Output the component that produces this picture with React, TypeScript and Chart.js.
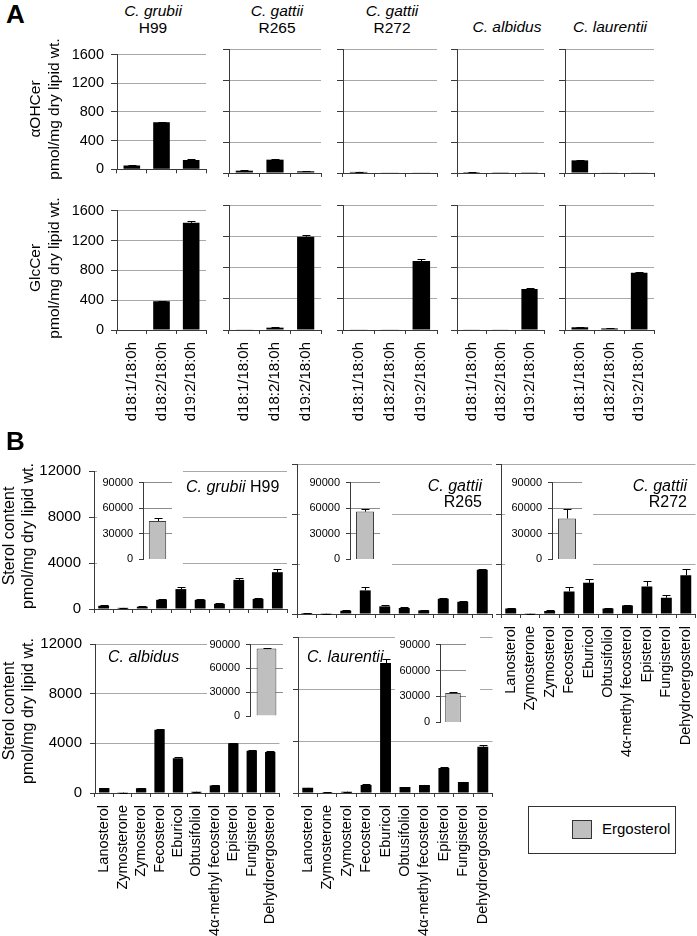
import React, { useEffect, useRef } from 'react';
import { Chart, registerables } from 'chart.js';

Chart.register(...registerables);

const FONT = '"Liberation Sans", Arial, Helvetica, sans-serif';

// ---------- Panel A data ----------
const ceramideCategories = ['d18:1/18:0h', 'd18:2/18:0h', 'd19:2/18:0h'];
const strainNames = ['C. grubii', 'C. gattii', 'C. gattii', 'C. albidus', 'C. laurentii'];
const strainIds = ['H99', 'R265', 'R272', '', ''];
const aOHCerValues = [
  [52, 658, 129],
  [30, 172, 22],
  [14, 8, 8],
  [12, 3, 3],
  [163, 5, 5],
];
const aOHCerErrors = [
  [10, 6, 8],
  [4, 6, 3],
  [2, 0, 0],
  [2, 0, 0],
  [6, 0, 0],
];
const glcCerValues = [
  [8, 385, 1437],
  [5, 30, 1194],
  [5, 5, 883],
  [5, 5, 525],
  [35, 20, 733],
];
const glcCerErrors = [
  [0, 10, 30],
  [0, 4, 20],
  [0, 0, 25],
  [0, 0, 8],
  [6, 3, 10],
];
const ceramideTicks = [0, 400, 800, 1200, 1600];

// ---------- Panel B data ----------
const sterolCategories = [
  'Lanosterol',
  'Zymosterone',
  'Zymosterol',
  'Fecosterol',
  'Eburicol',
  'Obtusifoliol',
  '4α-methyl fecosterol',
  'Episterol',
  'Fungisterol',
  'Dehydroergosterol',
];
const sterolH99 = [280, 100, 200, 800, 1730, 800, 450, 2530, 880, 3200];
const sterolR265 = [80, 20, 260, 1890, 610, 480, 290, 1220, 980, 3540];
const sterolR272 = [450, 20, 250, 1810, 2500, 450, 680, 2210, 1300, 3100];
const sterolAlbidus = [400, 30, 380, 5100, 2800, 100, 600, 4000, 3400, 3300];
const sterolLaurentii = [400, 60, 100, 620, 10000, 460, 620, 1930, 850, 3560];
const errH99 = [30, 20, 20, 60, 180, 50, 30, 200, 50, 250];
const errR265 = [10, 5, 30, 270, 90, 100, 20, 80, 100, 80];
const errR272 = [40, 5, 40, 350, 320, 40, 60, 450, 240, 510];
const errAlbidus = [20, 5, 50, 60, 60, 10, 20, 30, 50, 80];
const errLaurentii = [20, 10, 10, 40, 340, 30, 30, 40, 30, 100];
const ergosterolValues = [45000, 56000, 48000, 85000, 34000];
const ergosterolErrors = [4000, 3000, 11000, 1000, 1500];
const sterolTicks = [0, 4000, 8000, 12000];
const ergosterolTicks = [0, 30000, 60000, 90000];

const AXIS = '#3a3a3a';
const GRID = '#a8a8a8';

type Area = { l: number; t: number; r: number; b: number };
type Pad = { L: number; T: number; R: number; B: number };
type Spec = {
  area: Area;
  pad: Pad;
  labels: string[];
  values: number[];
  errors: number[];
  yTicks: number[];
  yLabels: boolean;
  yFont: number;
  yTickLen: number;
  yPad: number;
  xHidden: boolean;
  xLabels: boolean;
  xFont: number;
  fill: string;
  stroke: string;
  strokeW: number;
  barPct: number;
  cap: number;
  gridColor: string;
  bg?: string;
};

const errorBars = {
  id: 'errorBars',
  afterDatasetsDraw(chart: any) {
    const ctx = chart.ctx;
    const ys = chart.scales.y;
    chart.data.datasets.forEach((ds: any, di: number) => {
      const meta = chart.getDatasetMeta(di);
      const errs = ds.errors || [];
      ctx.save();
      ctx.strokeStyle = '#000';
      ctx.lineWidth = 1;
      meta.data.forEach((el: any, i: number) => {
        const e = errs[i];
        if (!e) return;
        const top = Math.round(ys.getPixelForValue(ds.data[i] + e)) + 0.5;
        const x = Math.round(el.x) + 0.5;
        ctx.beginPath();
        ctx.moveTo(x, el.y);
        ctx.lineTo(x, top);
        ctx.moveTo(x - ds.capHalf, top);
        ctx.lineTo(x + ds.capHalf, top);
        ctx.stroke();
      });
      ctx.restore();
    });
  },
};

function makeConfig(s: Spec): any {
  const { pad } = s;
  return {
    type: 'bar',
    data: {
      labels: s.labels,
      datasets: [
        {
          data: s.values,
          errors: s.errors,
          capHalf: s.cap,
          backgroundColor: s.fill,
          borderColor: s.stroke,
          borderWidth: s.strokeW,
          barPercentage: s.barPct,
          categoryPercentage: 1,
        },
      ],
    },
    plugins: [errorBars],
    options: {
      responsive: false,
      animation: false,
      devicePixelRatio: 1,
      layout: { padding: { left: 0, top: pad.T, right: pad.R, bottom: s.xHidden ? pad.B : 0 } },
      plugins: { legend: { display: false }, tooltip: { enabled: false }, title: { display: false } },
      scales: {
        x: {
          display: !s.xHidden,
          grid: { display: true, drawOnChartArea: false, drawTicks: true, tickLength: 4, tickColor: AXIS, offset: true },
          border: { display: true, color: AXIS, width: 1 },
          ticks: {
            display: s.xLabels,
            autoSkip: false,
            minRotation: 90,
            maxRotation: 90,
            padding: 8,
            color: '#000',
            font: { family: FONT, size: s.xFont },
          },
          afterFit: (sc: any) => {
            sc.height = pad.B;
          },
        },
        y: {
          min: 0,
          max: s.yTicks[s.yTicks.length - 1],
          afterBuildTicks: (sc: any) => {
            sc.ticks = s.yTicks.map((v) => ({ value: v }));
          },
          grid: {
            color: (c: any) => (c.tick && c.tick.value === 0 ? 'rgba(0,0,0,0)' : s.gridColor),
            lineWidth: 1,
            drawTicks: true,
            tickLength: s.yTickLen,
            tickColor: AXIS,
          },
          border: { display: true, color: AXIS, width: 1 },
          ticks: {
            display: s.yLabels,
            padding: s.yPad,
            color: '#000',
            font: { family: FONT, size: s.yFont },
            callback: (v: any) => String(v),
          },
          afterFit: (sc: any) => {
            sc.width = pad.L;
          },
        },
      },
    },
  };
}

function ChartBox({ spec }: { spec: Spec }) {
  const ref = useRef<HTMLCanvasElement>(null);
  const w = spec.area.r - spec.area.l + spec.pad.L + spec.pad.R;
  const h = spec.area.b - spec.area.t + spec.pad.T + spec.pad.B;
  useEffect(() => {
    const c = new Chart(ref.current as HTMLCanvasElement, makeConfig(spec));
    return () => c.destroy();
  }, []);
  return (
    <canvas
      ref={ref}
      width={w}
      height={h}
      style={{
        position: 'absolute',
        left: spec.area.l - spec.pad.L,
        top: spec.area.t - spec.pad.T,
        width: w,
        height: h,
        background: spec.bg || 'transparent',
      }}
    />
  );
}

function Txt({
  x,
  y,
  size,
  align = 'left',
  italic,
  bold,
  children,
}: {
  x: number;
  y: number;
  size: number;
  align?: 'left' | 'center' | 'right';
  italic?: boolean;
  bold?: boolean;
  children: React.ReactNode;
}) {
  const w = 400;
  const left = align === 'left' ? x : align === 'center' ? x - w / 2 : x - w;
  return (
    <div
      style={{
        position: 'absolute',
        left,
        top: y - 0.847 * size,
        width: w,
        fontSize: size,
        lineHeight: 1,
        textAlign: align,
        whiteSpace: 'nowrap',
        fontStyle: italic ? 'italic' : 'normal',
        fontWeight: bold ? 'bold' : 'normal',
        color: '#000',
        fontFamily: FONT,
      }}
    >
      {children}
    </div>
  );
}

function VTitle({ cx, cy, lines, size, lh }: { cx: number; cy: number; lines: string[]; size: number; lh: number }) {
  return (
    <div
      style={{
        position: 'absolute',
        left: cx,
        top: cy,
        transform: 'translate(-50%, -50%) rotate(-90deg)',
        fontSize: size,
        lineHeight: lh + 'px',
        textAlign: 'center',
        whiteSpace: 'nowrap',
        fontFamily: FONT,
        color: '#000',
      }}
    >
      {lines.map((l) => (
        <div key={l}>{l}</div>
      ))}
    </div>
  );
}

export default function App() {
  const colX = [
    [117, 206],
    [229, 321],
    [343, 437],
    [457, 544],
    [565, 654],
  ];
  const specs: Spec[] = [];
  const baseA = {
    labels: ceramideCategories,
    yTicks: ceramideTicks,
    yFont: 14.5,
    yTickLen: 6,
    yPad: 7,
    xHidden: false,
    xFont: 15,
    fill: '#000',
    stroke: '#000',
    strokeW: 0,
    barPct: 0.56,
    cap: 4,
    gridColor: GRID,
  };
  colX.forEach((c, i) => {
    specs.push({
      ...baseA,
      area: { l: c[0], r: c[1], t: 49, b: 173 },
      pad: { L: i === 0 ? 55 : 8, T: 10, R: 10, B: 12 },
      values: aOHCerValues[i],
      errors: aOHCerErrors[i],
      yLabels: i === 0,
      xLabels: false,
    });
    specs.push({
      ...baseA,
      area: { l: c[0], r: c[1], t: 205, b: 330 },
      pad: { L: i === 0 ? 55 : 8, T: 10, R: 14, B: 100 },
      values: glcCerValues[i],
      errors: glcCerErrors[i],
      yLabels: i === 0,
      xLabels: true,
    });
  });

  const baseB = {
    labels: sterolCategories,
    yTicks: sterolTicks,
    yFont: 15,
    yTickLen: 5,
    yPad: 8,
    xHidden: false,
    xFont: 14.5,
    fill: '#000',
    stroke: '#000',
    strokeW: 0,
    barPct: 0.56,
    cap: 4,
    gridColor: GRID,
  };
  const sterolSeries = [sterolH99, sterolR265, sterolR272, sterolAlbidus, sterolLaurentii];
  const sterolErrs = [errH99, errR265, errR272, errAlbidus, errLaurentii];
  const mainAreas: Area[] = [
    { l: 94, r: 287, t: 464, b: 614 },
    { l: 297, r: 492, t: 464, b: 614 },
    { l: 501, r: 696, t: 464, b: 614 },
    { l: 95, r: 288, t: 637, b: 793 },
    { l: 298, r: 493, t: 637, b: 793 },
  ];
  const mainPads: Pad[] = [
    { L: 60, T: 10, R: 8, B: 12 },
    { L: 8, T: 10, R: 5, B: 12 },
    { L: 8, T: 10, R: 16, B: 145 },
    { L: 60, T: 10, R: 8, B: 143 },
    { L: 8, T: 10, R: 16, B: 143 },
  ];
  const yLab = [true, false, false, true, false];
  const xLab = [false, false, true, true, true];
  mainAreas.forEach((a, i) => {
    specs.push({
      ...baseB,
      area: a,
      pad: mainPads[i],
      values: sterolSeries[i],
      errors: sterolErrs[i],
      yLabels: yLab[i],
      xLabels: xLab[i],
    });
  });

  const insetAreas: Area[] = [
    { l: 143, r: 172, t: 478, b: 566 },
    { l: 350, r: 380, t: 478, b: 566 },
    { l: 552, r: 582, t: 478, b: 566 },
    { l: 250, r: 283, t: 643, b: 723 },
    { l: 440, r: 466, t: 644, b: 729 },
  ];
  const insetPads: Pad[] = [
    { L: 46, T: 8, R: 11, B: 6 },
    { L: 50, T: 8, R: 12, B: 6 },
    { L: 47, T: 8, R: 11, B: 6 },
    { L: 43, T: 11, R: 7, B: 7 },
    { L: 45, T: 12, R: 14, B: 6 },
  ];
  insetAreas.forEach((a, i) => {
    specs.push({
      area: a,
      pad: insetPads[i],
      labels: ['Ergosterol'],
      values: [ergosterolValues[i]],
      errors: [ergosterolErrors[i]],
      yTicks: ergosterolTicks,
      yLabels: true,
      yFont: 11,
      yTickLen: 4,
      yPad: 6,
      xHidden: true,
      xLabels: false,
      xFont: 10,
      fill: '#bfbfbf',
      stroke: '#404040',
      strokeW: 1,
      barPct: 0.6,
      cap: 4,
      gridColor: '#8c8c8c',
      bg: '#ffffff',
    });
  });

  const titleCentersA = [153, 277, 392, 507, 610];

  return (
    <div
      style={{
        position: 'fixed',
        left: 0,
        top: 0,
        width: 697,
        height: 936,
        overflow: 'hidden',
        background: '#fff',
        fontFamily: FONT,
      }}
    >
      {specs.map((s, i) => (
        <ChartBox key={i} spec={s} />
      ))}

      <Txt x={6} y={23} size={26} bold>
        A
      </Txt>
      <Txt x={6} y={450} size={26} bold>
        B
      </Txt>

      {strainNames.map((n, i) =>
        strainIds[i] ? (
          <React.Fragment key={i}>
            <Txt x={titleCentersA[i]} y={16} size={15.5} align="center" italic>
              {n}
            </Txt>
            <Txt x={titleCentersA[i]} y={32.7} size={15.5} align="center">
              {strainIds[i]}
            </Txt>
          </React.Fragment>
        ) : (
          <Txt key={i} x={titleCentersA[i]} y={32.5} size={15.5} align="center" italic>
            {n}
          </Txt>
        )
      )}

      <VTitle cx={43.5} cy={109} lines={['αOHCer', 'pmol/mg dry lipid wt.']} size={15.5} lh={18.5} />
      <VTitle cx={43.5} cy={268} lines={['GlcCer', 'pmol/mg dry lipid wt.']} size={15.5} lh={18.5} />
      <VTitle cx={18} cy={536} lines={['Sterol content', 'pmol/mg dry lipid wt.']} size={16} lh={19} />
      <VTitle cx={18} cy={711} lines={['Sterol content', 'pmol/mg dry lipid wt.']} size={16} lh={19} />

      <Txt x={186} y={492.5} size={16}>
        <i>{strainNames[0]}</i> {strainIds[0]}
      </Txt>
      <Txt x={482} y={491.5} size={16} align="right" italic>
        {strainNames[1]}
      </Txt>
      <Txt x={482} y={508} size={16} align="right">
        {strainIds[1]}
      </Txt>
      <Txt x={687} y={491.5} size={16} align="right" italic>
        {strainNames[2]}
      </Txt>
      <Txt x={687} y={508} size={16} align="right">
        {strainIds[2]}
      </Txt>
      <Txt x={108} y={663} size={16} italic>
        {strainNames[3]}
      </Txt>
      <Txt x={307} y={663} size={16} italic>
        {strainNames[4]}
      </Txt>

      <div
        style={{
          position: 'absolute',
          left: 528,
          top: 806,
          width: 146,
          height: 46,
          border: '1px solid #333',
          background: '#fff',
        }}
      />
      <div
        style={{
          position: 'absolute',
          left: 572,
          top: 820,
          width: 18,
          height: 17,
          border: '1px solid #333',
          background: '#bfbfbf',
        }}
      />
      <Txt x={602} y={834} size={15}>
        Ergosterol
      </Txt>
    </div>
  );
}
